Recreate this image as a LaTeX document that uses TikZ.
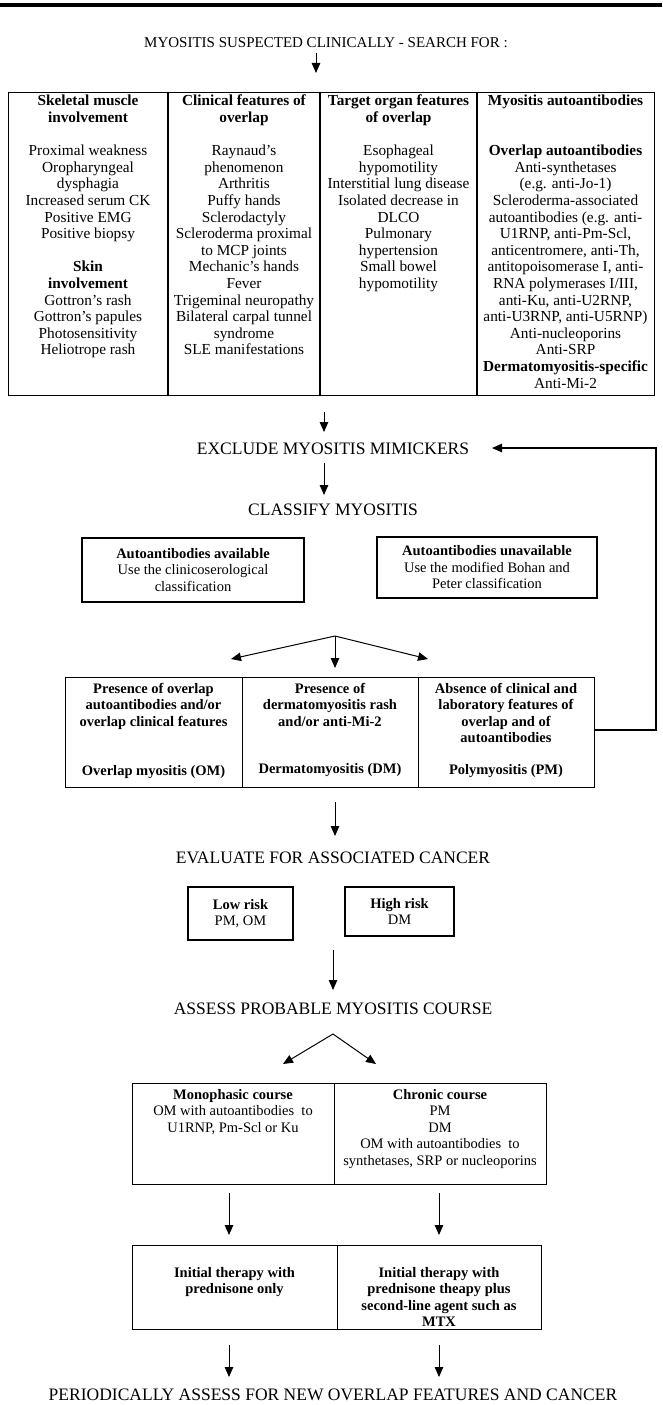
\documentclass[tikz,border=0pt]{standalone}
\usepackage{fontspec}
\setmainfont{Liberation Serif}
\usetikzlibrary{arrows.meta}

\begin{document}
\begin{tikzpicture}[x=1pt,y=-1pt,
  arr/.style={line width=1pt,-{Triangle[length=10pt,width=8.5pt]}},
  heading/.style={font=\fontsize{17.5}{20}\selectfont,anchor=base,inner sep=0pt},
  cell/.style={draw,line width=1.2pt,inner sep=0pt,anchor=north west},
  tabtxt/.style={font=\fontsize{15.3}{16.6}\selectfont,align=center,anchor=north,inner sep=0pt},
  boxtxt/.style={font=\fontsize{14.5}{16.5}\selectfont,align=center,anchor=north,inner sep=0pt},
  boldtxt/.style={boxtxt,font=\fontsize{14.5}{16.5}\selectfont\bfseries},
  labtxt/.style={font=\fontsize{14.5}{16.5}\selectfont\bfseries,anchor=base,inner sep=0pt},
  box/.style={draw,line width=1.2pt,align=center,inner sep=0pt,font=\fontsize{14.5}{16.5}\selectfont}]

  \useasboundingbox (0,0) rectangle (662,1405);
  \def\midX{333}
  \def\rowH{16.6pt}
  \def\twoRows{33.2pt}

  % Top rule
  \draw[line width=4pt] (0,5) -- (662,5);

  % Title
  \node[heading,font=\fontsize{15}{18}\selectfont] (title) at (326,48) {MYOSITIS SUSPECTED CLINICALLY - SEARCH FOR :};
  \coordinate (t1) at (316,53);
  \coordinate (t2) at (316,73);
  \draw[arr] (t1) -- (t2);

  % Draw table
  \node[cell,minimum width=646,minimum height=303] (tab) at (8,92) {};
  \foreach \xx in {168,320,477} {
    \draw[line width=1.2pt] (\xx,92) -- (\xx,395);
  }

  % Column texts
  \node[tabtxt] (col1) at (88,95) {\textbf{Skeletal muscle}\\\textbf{involvement}\\[\rowH]
    Proximal weakness\\Oropharyngeal\\dysphagia\\Increased serum CK\\Positive EMG\\Positive biopsy\\[\rowH]
    \textbf{Skin}\\\textbf{involvement}\\Gottron's rash\\Gottron's papules\\Photosensitivity\\Heliotrope rash};
  \node[tabtxt] (col2) at (244,95) {\textbf{Clinical features of}\\\textbf{overlap}\\[\rowH]
    Raynaud's\\phenomenon\\Arthritis\\Puffy hands\\Sclerodactyly\\Scleroderma proximal\\to MCP joints\\
    Mechanic's hands\\Fever\\Trigeminal neuropathy\\Bilateral carpal tunnel\\syndrome\\SLE manifestations};
  \node[tabtxt] (col3) at (398.5,95) {\textbf{Target organ features}\\\textbf{of overlap}\\[\rowH]
    Esophageal\\hypomotility\\Interstitial lung disease\\Isolated decrease in\\DLCO\\Pulmonary\\hypertension\\
    Small bowel\\hypomotility};
  \node[tabtxt] (col4) at (565.5,95) {\textbf{Myositis autoantibodies}\\[\twoRows]
    \textbf{Overlap autoantibodies}\\Anti-synthetases\\(e.g. anti-Jo-1)\\Scleroderma-associated\\
    autoantibodies (e.g. anti-\\U1RNP, anti-Pm-Scl,\\anticentromere, anti-Th,\\antitopoisomerase I, anti-\\
    RNA polymerases I/III,\\anti-Ku, anti-U2RNP,\\anti-U3RNP, anti-U5RNP)\\Anti-nucleoporins\\Anti-SRP\\
    \textbf{Dermatomyositis-specific}\\Anti-Mi-2};

  % Exclude and classify
  \coordinate (t3) at (324,412);
  \coordinate (t4) at (324,432);
  \draw[arr] (t3) -- (t4);
  \node[heading] (exclude) at (\midX,454) {EXCLUDE MYOSITIS MIMICKERS};
  \coordinate (t5) at (324,463);
  \coordinate (t6) at (324,495);
  \draw[arr] (t5) -- (t6);
  \node[heading] (classify) at (\midX,515) {CLASSIFY MYOSITIS};

  \node[box,minimum width=222,minimum height=64] (avail) at (193,570)
    {\textbf{Autoantibodies available}\\Use the clinicoserological\\classification};
  \node[box,minimum width=220,minimum height=61] (unavail) at (487,567.5)
    {\textbf{Autoantibodies unavailable}\\Use the modified Bohan and\\Peter classification};

  % Fork to the three groups
  \coordinate (fork1) at (335,636);
  \coordinate (f1l) at (231,659);
  \coordinate (f1m) at (335,668);
  \coordinate (f1r) at (428,659);
  \draw[arr] (fork1) -- (f1l);
  \draw[arr] (fork1) -- (f1m);
  \draw[arr] (fork1) -- (f1r);

  \node[cell,minimum width=177,minimum height=110] (omcell) at (65,677) {};
  \node[cell,minimum width=176,minimum height=110] (dmcell) at (242,677) {};
  \node[cell,minimum width=176,minimum height=110] (pmcell) at (418,677) {};

  \node[boldtxt] (omtxt) at (153.5,683) {Presence of overlap\\autoantibodies and/or\\overlap clinical features};
  \node[labtxt] (omlab) at (153.5,775) {Overlap myositis (OM)};
  \node[boldtxt] (dmtxt) at (330,683) {Presence of\\dermatomyositis rash\\and/or anti-Mi-2};
  \node[labtxt] (dmlab) at (330,773) {Dermatomyositis (DM)};
  \node[boldtxt] (pmtxt) at (506,683) {Absence of clinical and\\laboratory features of\\overlap and of\\autoantibodies};
  \node[labtxt] (pmlab) at (506,774) {Polymyositis (PM)};

  % Back to the mimickers
  \coordinate (fbr) at (656,730);
  \coordinate (fbtip) at (492,448);
  \draw[arr,line width=1.2pt] (pmcell.east |- fbr) -- (fbr) |- (fbtip);

  % Cancer risk
  \coordinate (t7) at (335,802);
  \coordinate (t8) at (335,836);
  \draw[arr] (t7) -- (t8);
  \node[heading] (evaluate) at (\midX,863) {EVALUATE FOR ASSOCIATED CANCER};
  \node[box,minimum width=105,minimum height=53] (lowrisk) at (240.5,913.5) {\textbf{Low risk}\\PM, OM};
  \node[box,minimum width=109,minimum height=49] (highrisk) at (399.5,911.5) {\textbf{High risk}\\DM};

  % Course
  \coordinate (t9) at (333,950);
  \coordinate (t10) at (333,990);
  \draw[arr] (t9) -- (t10);
  \node[heading] (assess) at (\midX,1014) {ASSESS PROBABLE MYOSITIS COURSE};
  \coordinate (fork2) at (333,1034);
  \coordinate (f2l) at (283,1064);
  \coordinate (f2r) at (376,1064);
  \draw[arr] (fork2) -- (f2l);
  \draw[arr] (fork2) -- (f2r);

  \node[cell,minimum width=202,minimum height=101] (monocell) at (132,1083) {};
  \node[cell,minimum width=212,minimum height=101] (chroncell) at (334,1083) {};
  \node[boxtxt] (monotxt) at (233,1089) {\textbf{Monophasic course}\\OM with autoantibodies\ \ to\\U1RNP, Pm-Scl or Ku};
  \node[boxtxt] (chrontxt) at (440,1089) {\textbf{Chronic course}\\PM\\DM\\OM with autoantibodies\ \ to\\synthetases, SRP or nucleoporins};

  % Therapy
  \coordinate (m1) at (229,1193);
  \coordinate (m2) at (229,1235);
  \coordinate (c1) at (439,1193);
  \coordinate (c2) at (439,1235);
  \draw[arr] (m1) -- (m2);
  \draw[arr] (c1) -- (c2);

  \node[cell,minimum width=205,minimum height=84] (predcell) at (132,1245) {};
  \node[cell,minimum width=204,minimum height=84] (mtxcell) at (337,1245) {};
  \node[boldtxt] (predtxt) at (234.5,1267) {Initial therapy with\\prednisone only};
  \node[boldtxt] (mtxtxt) at (439,1267) {Initial therapy with\\prednisone theapy plus\\second-line agent such as\\MTX};

  \coordinate (m3) at (229,1345);
  \coordinate (m4) at (229,1377);
  \coordinate (c3) at (439,1345);
  \coordinate (c4) at (439,1377);
  \draw[arr] (m3) -- (m4);
  \draw[arr] (c3) -- (c4);
  \node[heading] (periodic) at (\midX,1400) {PERIODICALLY ASSESS FOR NEW OVERLAP FEATURES AND CANCER};
\end{tikzpicture}
\end{document}
